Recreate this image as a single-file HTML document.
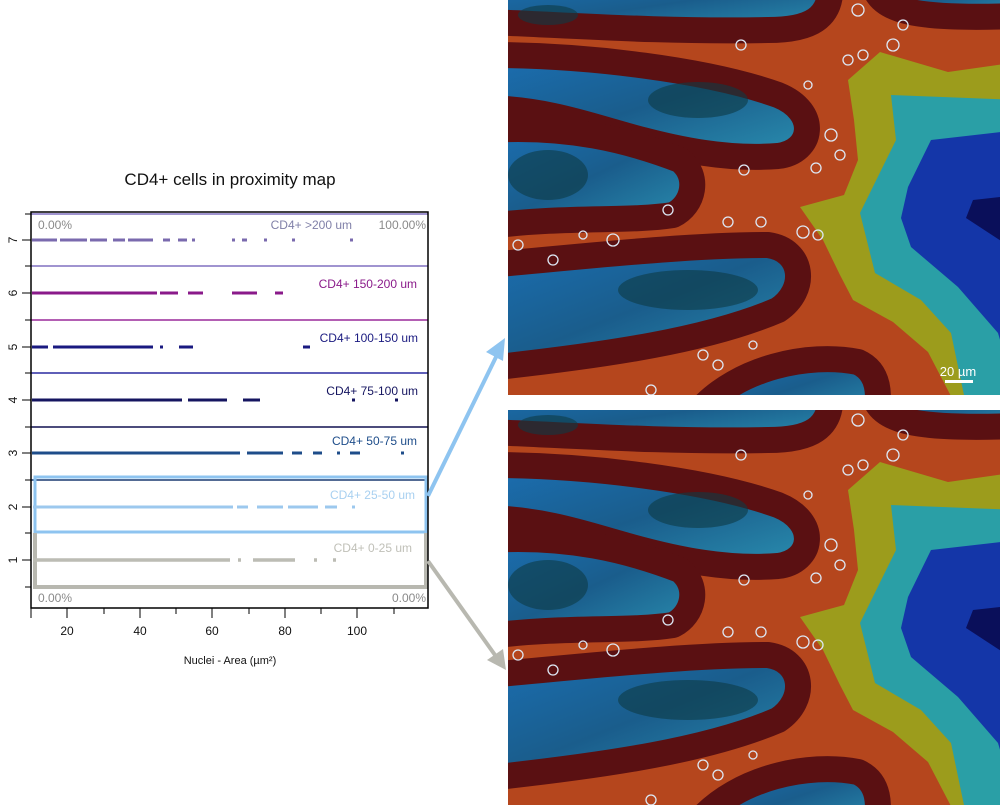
<!DOCTYPE html>
<html><head><meta charset="utf-8"><style>
html,body{margin:0;padding:0;background:#fff;}
svg{display:block;font-family:"Liberation Sans",sans-serif;}
</style></head><body>
<svg width="1000" height="807" viewBox="0 0 1000 807" xmlns="http://www.w3.org/2000/svg">
<defs>
<clipPath id="cp"><rect x="0" y="0" width="492" height="395"/></clipPath>
<linearGradient id="bl" x1="0" y1="0" x2="1" y2="1">
<stop offset="0" stop-color="#1b6fb3"/><stop offset="0.5" stop-color="#1a5d8c"/><stop offset="1" stop-color="#2a8fb0"/></linearGradient>
<g id="tissue">
<g clip-path="url(#cp)">
<rect x="0" y="0" width="492" height="395" fill="#b5461d"/>
<g fill="url(#bl)" stroke="#5a1012" stroke-width="26" stroke-linejoin="round">
<path d="M-20,-20 L322,-20 C326,20 300,30 260,30 C150,32 60,25 -20,22 Z"/>
<path d="M365,-20 C368,10 400,20 510,16 L510,-20 Z"/>
<path d="M-20,55 C80,55 200,70 270,95 C312,112 305,152 270,156 C220,160 170,150 120,136 C80,125 40,110 -20,108 Z"/>
<path d="M-20,130 C60,125 120,140 172,160 C192,176 186,205 165,215 C120,222 60,216 -20,226 Z"/>
<path d="M-20,265 C80,256 180,245 260,245 C296,250 300,290 270,310 C200,340 100,355 -20,368 Z"/>
<path d="M192,410 C230,368 300,352 350,362 C372,372 372,395 368,420 Z"/>
</g>
<g fill="#0d3a45" opacity="0.6">
<ellipse cx="190" cy="100" rx="50" ry="18"/><ellipse cx="40" cy="175" rx="40" ry="25"/><ellipse cx="180" cy="290" rx="70" ry="20"/><ellipse cx="40" cy="15" rx="30" ry="10"/>
</g>
<polygon fill="#9c9c1c" points="510,62 440,72 372,52 340,80 346,120 350,160 336,195 292,207 315,240 332,275 345,300 385,322 420,352 445,400 510,400"/>
<polygon fill="#2a9fa6" points="510,100 383,95 388,140 352,213 367,273 413,300 443,333 457,400 510,400"/>
<polygon fill="#1436a8" points="510,130 423,140 400,187 393,218 403,247 450,287 490,333 510,400"/>
<polygon fill="#0a0f5a" points="510,195 465,200 458,218 510,252"/>
<g fill="none" stroke="#dde8f5" stroke-width="1.3">
<circle cx="233" cy="45" r="5"/><circle cx="300" cy="85" r="4"/><circle cx="323" cy="135" r="6"/><circle cx="332" cy="155" r="5"/><circle cx="340" cy="60" r="5"/><circle cx="355" cy="55" r="5"/><circle cx="385" cy="45" r="6"/><circle cx="308" cy="168" r="5"/><circle cx="236" cy="170" r="5"/><circle cx="160" cy="210" r="5"/><circle cx="220" cy="222" r="5"/><circle cx="253" cy="222" r="5"/><circle cx="295" cy="232" r="6"/><circle cx="310" cy="235" r="5"/><circle cx="105" cy="240" r="6"/><circle cx="75" cy="235" r="4"/><circle cx="10" cy="245" r="5"/><circle cx="45" cy="260" r="5"/><circle cx="195" cy="355" r="5"/><circle cx="210" cy="365" r="5"/><circle cx="245" cy="345" r="4"/><circle cx="143" cy="390" r="5"/><circle cx="395" cy="25" r="5"/><circle cx="350" cy="10" r="6"/>
</g>
</g>
</g>
</defs>

<!-- images -->
<use href="#tissue" x="508" y="0"/>
<use href="#tissue" x="508" y="410" transform=""/>
<text x="958" y="376" font-size="13" fill="#fff" text-anchor="middle">20 µm</text>
<rect x="945" y="380" width="28" height="3" fill="#fff"/>

<!-- title -->
<text x="230" y="185" font-size="17" fill="#111" text-anchor="middle">CD4+ cells in proximity map</text>

<!-- separators -->
<g stroke-width="1.5">
<line x1="31" y1="214" x2="428" y2="214" stroke="#8070c0"/>
<line x1="31" y1="266" x2="428" y2="266" stroke="#8070c0"/>
<line x1="31" y1="320" x2="428" y2="320" stroke="#9a2a9a"/>
<line x1="31" y1="373" x2="428" y2="373" stroke="#2a2aa0"/>
<line x1="31" y1="427" x2="428" y2="427" stroke="#101050"/>
<line x1="31" y1="480" x2="428" y2="480" stroke="#1a3a70"/>
</g>
<!-- boxes -->
<rect x="35" y="477" width="391" height="55" fill="none" stroke="#8ec4f0" stroke-width="3"/>
<path d="M35,533 L35,587 L426,587 L426,533" fill="none" stroke="#b8b8b0" stroke-width="4"/>
<!-- frame -->
<path d="M31,212 L428,212 L428,608 L31,608 Z" fill="none" stroke="#000" stroke-width="1.5"/>

<!-- series -->
<g stroke-width="3" fill="none">
<path stroke="#7a6aae" d="M32,240H57M60,240H87M90,240H107M113,240H125M128,240H153M163,240H170M178,240H187M192,240H195M232,240H235M242,240H247M264,240H267M292,240H295M350,240H353"/>
<path stroke="#8a1a8a" d="M32,293H157M160,293H178M188,293H203M232,293H257M275,293H283"/>
<path stroke="#1a1a80" d="M32,347H48M53,347H153M160,347H163M179,347H193M303,347H310"/>
<path stroke="#151560" d="M32,400H182M188,400H227M243,400H260M352,400H355M395,400H398"/>
<path stroke="#1e4d8a" d="M32,453H240M247,453H283M292,453H302M313,453H322M337,453H340M350,453H360M401,453H404"/>
<path stroke="#9cc8ee" d="M33,507H233M237,507H248M257,507H283M288,507H318M325,507H337M352,507H355"/>
<path stroke="#bcbcb4" stroke-width="3.5" d="M33,560H230M238,560H241M253,560H295M314,560H317M333,560H336"/>
</g>

<!-- labels in plot -->
<g font-size="12">
<text x="38" y="229" fill="#8a8a8a">0.00%</text>
<text x="426" y="229" fill="#8a8a8a" text-anchor="end">100.00%</text>
<text x="352" y="229" fill="#8080a8" text-anchor="end">CD4+ &gt;200 um</text>
<text x="417" y="288" fill="#8a1a8a" text-anchor="end">CD4+ 150-200 um</text>
<text x="418" y="342" fill="#1a1a80" text-anchor="end">CD4+ 100-150 um</text>
<text x="418" y="395" fill="#151560" text-anchor="end">CD4+ 75-100 um</text>
<text x="417" y="445" fill="#1e4d8a" text-anchor="end">CD4+ 50-75 um</text>
<text x="415" y="499" fill="#a8d0f0" text-anchor="end">CD4+ 25-50 um</text>
<text x="412" y="552" fill="#c0c0b8" text-anchor="end">CD4+ 0-25 um</text>
<text x="38" y="602" fill="#8a8a8a">0.00%</text>
<text x="426" y="602" fill="#8a8a8a" text-anchor="end">0.00%</text>
</g>

<!-- y ticks -->
<g stroke="#000" stroke-width="1">
<path d="M22,240H31M22,293H31M22,347H31M22,400H31M22,453H31M22,507H31M22,560H31M25,266H31M25,320H31M25,373H31M25,427H31M25,480H31M25,533H31M25,587H31M25,214H31"/>
<path d="M31,608V618M67,608V618M104,608V614M140,608V618M176,608V614M212,608V618M249,608V614M285,608V618M321,608V614M357,608V618M394,608V614"/>
</g>
<g font-size="12" fill="#111" text-anchor="middle">
<text transform="translate(13,240) rotate(-90)" dy="4">7</text>
<text transform="translate(13,293) rotate(-90)" dy="4">6</text>
<text transform="translate(13,347) rotate(-90)" dy="4">5</text>
<text transform="translate(13,400) rotate(-90)" dy="4">4</text>
<text transform="translate(13,453) rotate(-90)" dy="4">3</text>
<text transform="translate(13,507) rotate(-90)" dy="4">2</text>
<text transform="translate(13,560) rotate(-90)" dy="4">1</text>
<text x="67" y="635">20</text><text x="140" y="635">40</text><text x="212" y="635">60</text><text x="285" y="635">80</text><text x="357" y="635">100</text>
<text x="230" y="664" font-size="11">Nuclei - Area (µm²)</text>
</g>

<!-- arrows -->
<line x1="428" y1="496" x2="497" y2="355" stroke="#8ec4f0" stroke-width="4"/>
<polygon points="505,338 486,352 503,361" fill="#8ec4f0"/>
<line x1="428" y1="561" x2="495" y2="655" stroke="#b8b8b0" stroke-width="4"/>
<polygon points="506,670 487,660 503,649" fill="#b8b8b0"/>
</svg>
</body></html>
